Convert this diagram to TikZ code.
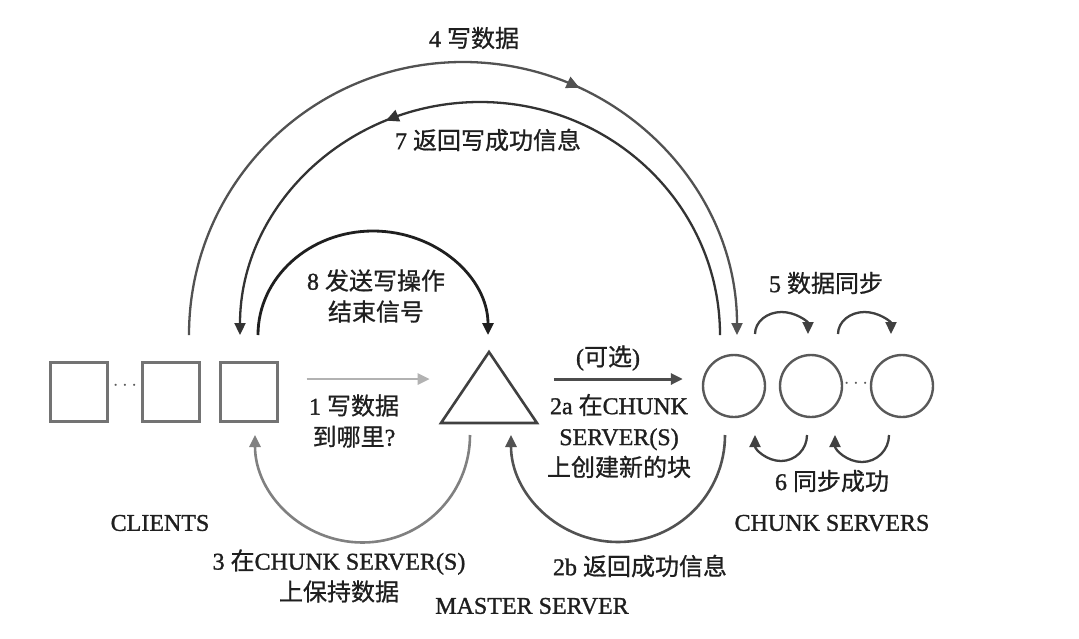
\documentclass[tikz,border=0pt]{standalone}
\usepackage{fontspec}
\setmainfont{Liberation Serif}[UprightFeatures={FakeBold=1.2}]
\newfontfamily\cjkf{Noto Sans CJK SC}[UprightFeatures={FakeBold=0.8}]
\newcommand\zh[1]{{\cjkf #1}}
\usetikzlibrary{arrows.meta,decorations.markings}
\begin{document}
\begin{tikzpicture}[x=1pt,y=-1pt,
  txt/.style={font=\fontsize{24}{31}\selectfont, text=black!88, inner sep=0pt, align=center},
  client/.style={draw=black!55, line width=2.4pt, minimum width=57pt, minimum height=59pt, inner sep=0pt},
  chunk/.style={draw=black!65, circle, line width=2.4pt, minimum size=62pt, inner sep=0pt},
  smalldots/.style={inner sep=0pt, text=black!65, font=\fontsize{20}{20}\selectfont},
  tip/.style={-{Triangle[length=12pt,width=11pt]}},
  midarrow/.style={postaction={decorate,decoration={markings,mark=at position #1 with {\arrow{Triangle[length=13pt,width=12pt]}}}}}
]
\fill[white] (0,0) rectangle (1079,638);
\useasboundingbox (0,0) rectangle (1079,638);

% clients
\node[client] (cl1) at (79,392) {};
\node[client] (cl2) at (171,392) {};
\node[client] (cl3) at (249,392) {};
\node[smalldots] (dots1) at (125,386) {$\cdots$};

% master
\draw[black!75, line width=2.6pt, line join=miter] (489,352) -- (537,423) -- (441,423) -- cycle;
\coordinate (master) at (489,395);

% chunk servers
\node[chunk] (cs1) at (734,386) {};
\node[chunk] (cs2) at (811,386) {};
\node[chunk] (cs3) at (902,386) {};
\node[smalldots] (dots2) at (856,384) {$\cdots$};

% 1
\draw[tip, black!30, line width=2.6pt] ([shift={(28,-13)}]cl3.east) -- ++(123,0);
% 2a
\draw[tip, black!70, line width=3pt] ([shift={(-148,-7)}]cs1.west) -- ([shift={(-19,-7)}]cs1.west);
% 3
\draw[tip, black!50, line width=2.6pt] ([shift={(-19,40)}]master) arc[start angle=0,end angle=180,radius=107.5];
% 2b
\draw[tip, black!68, line width=2.6pt] ([shift={(-9,49)}]cs1) arc[start angle=0,end angle=180,radius=107];
% 4
\draw[tip, midarrow=0.64, black!68, line width=2.3pt] ([shift={(18,-57)}]cl2) arc[start angle=180,end angle=360,x radius=274,y radius=273];
% 7
\draw[tip, midarrow=0.63, black!80, line width=2.3pt] ([shift={(-14,-51)}]cs1) arc[start angle=0,end angle=-180,x radius=240,y radius=233];
% 8
\draw[tip, black!88, line width=2.8pt] ([shift={(9,-57)}]cl3) arc[start angle=180,end angle=360,x radius=115,y radius=104];
% 5 sync
\draw[tip, black!75, line width=2.3pt] ([shift={(21,-52)}]cs1) arc[start angle=180,end angle=360,x radius=26.5,y radius=22];
\draw[tip, black!75, line width=2.3pt] ([shift={(27,-52)}]cs2) arc[start angle=180,end angle=360,x radius=26.5,y radius=22];
% 6 sync back
\draw[tip, black!75, line width=2.3pt] ([shift={(-4,49)}]cs2) arc[start angle=0,end angle=180,radius=26];
\draw[tip, black!75, line width=2.3pt] ([shift={(-13,49)}]cs3) arc[start angle=0,end angle=180,radius=27];

% labels
\node[txt] (l4) at (474,38) {4 \zh{写数据}};
\node[txt] (l7) at (488,140) {7 \zh{返回写成功信息}};
\node[txt] (l8) at (376,296) {8 \zh{发送写操作}\\\zh{结束信号}};
\node[txt] (l5) at (826,283) {5 \zh{数据同步}};
\node[txt] (lopt) at (608,358) {(\zh{可选})};
\node[txt] (l1) at (354,421) {1 \zh{写数据}\\\zh{到哪里}?};
\node[txt] (l2a) at (619,436) {2a \zh{在}CHUNK\\SERVER(S)\\\zh{上创建新的块}};
\node[txt] (l6) at (832,481) {6 \zh{同步成功}};
\node[txt] (lcs) at (832,523) {CHUNK SERVERS};
\node[txt] (lcl) at (160,523) {CLIENTS};
\node[txt] (l3) at (339,576) {3 \zh{在}CHUNK SERVER(S)\\\zh{上保持数据}};
\node[txt] (l2b) at (640,566) {2b \zh{返回成功信息}};
\node[txt] (lms) at (532,606) {MASTER SERVER};
\end{tikzpicture}
\end{document}
